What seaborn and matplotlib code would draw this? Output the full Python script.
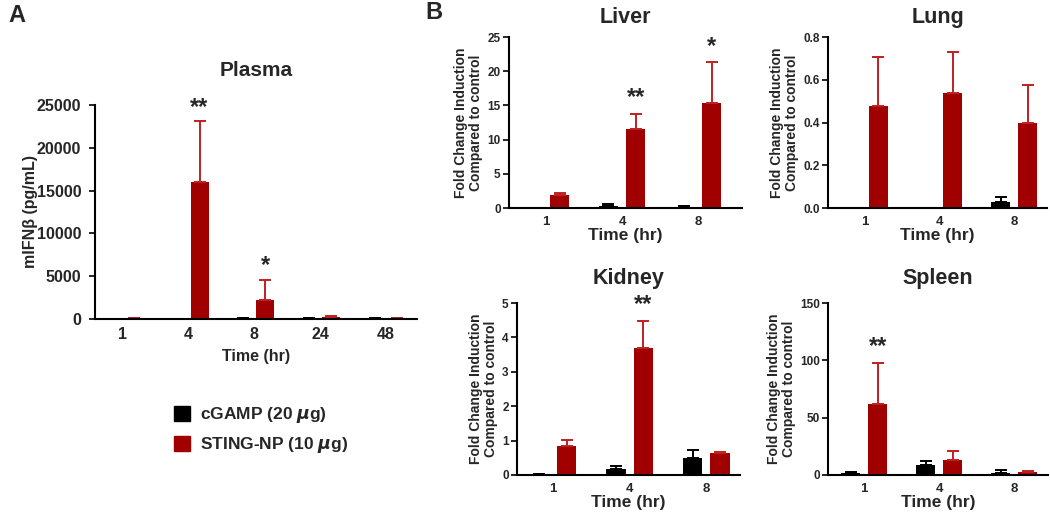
import numpy as np
import pandas as pd
import matplotlib
matplotlib.use('Agg')
import matplotlib.pyplot as plt
import matplotlib.patches as mpatches
import seaborn as sns

# Group labels / colours
groups = ['cGAMP (20 $\\mu$g)', 'STING-NP (10 $\\mu$g)']
bar_colors = ['#000000', '#a00000']
err_colors = ['#000000', '#c02020']

# Panel A - plasma mIFNb (pg/mL)
plasma_times = ['1', '4', '8', '24', '48']
plasma_cgamp = [20, 20, 80, 80, 80]
plasma_cgamp_err = [0, 0, 20, 20, 20]
plasma_sting = [120, 16000, 2250, 270, 100]
plasma_sting_err = [30, 7100, 2350, 130, 30]
plasma_stars = ['', '**', '*', '', '']
plasma_star_y = [0, 24700, 6200, 0, 0]

# Panel B - fold change induction vs control
organ_times = ['1', '4', '8']
liver_cgamp = [0.0, 0.3, 0.15]
liver_cgamp_err = [0, 0.3, 0.1]
liver_sting = [1.9, 11.6, 15.3]
liver_sting_err = [0.3, 2.2, 6.0]
liver_stars = ['', '**', '*']
liver_star_y = [0, 16.2, 23.6]

lung_cgamp = [0.0, 0.0, 0.03]
lung_cgamp_err = [0, 0, 0.02]
lung_sting = [0.475, 0.54, 0.40]
lung_sting_err = [0.23, 0.19, 0.175]
lung_stars = ['', '', '']
lung_star_y = [0, 0, 0]

kidney_cgamp = [0.03, 0.17, 0.5]
kidney_cgamp_err = [0.01, 0.1, 0.23]
kidney_sting = [0.84, 3.68, 0.64]
kidney_sting_err = [0.18, 0.81, 0.04]
kidney_stars = ['', '**', '']
kidney_star_y = [0, 4.95, 0]

spleen_cgamp = [1.5, 9, 2]
spleen_cgamp_err = [1.1, 3.5, 2.4]
spleen_sting = [62, 13.5, 2.6]
spleen_sting_err = [35.6, 7.2, 1.2]
spleen_stars = ['**', '', '']
spleen_star_y = [112, 0, 0]

sns.set_style('ticks')
plt.rcParams['font.family'] = ['Liberation Sans', 'DejaVu Sans']
plt.rcParams['font.weight'] = 'bold'
plt.rcParams['axes.labelweight'] = 'bold'
plt.rcParams['axes.titleweight'] = 'bold'


def draw_panel(ax, times, cgamp, cgamp_err, sting, sting_err, stars, star_y,
               width, gap, star_size):
    n = len(times)
    df = pd.DataFrame({
        'time': times * 2,
        'value': cgamp + sting,
        'group': [groups[0]] * n + [groups[1]] * n,
    })
    sns.barplot(data=df, x='time', y='value', hue='group', order=times,
                hue_order=groups, palette=dict(zip(groups, bar_colors)),
                width=width, gap=gap, errorbar=None, legend=False,
                saturation=1, linewidth=0, ax=ax)

    # upper-only error bars, placed on seaborn's own bars
    for cont, errs, ec in zip(ax.containers, [cgamp_err, sting_err], err_colors):
        for bar, e in zip(cont, errs):
            if e <= 0:
                continue
            x = bar.get_x() + bar.get_width() / 2
            ax.errorbar(x, bar.get_height(), yerr=[[0], [e]], fmt='none',
                        ecolor=ec, elinewidth=1.4, capsize=4, capthick=1.4,
                        zorder=1)

    # significance stars over the STING-NP bars
    for bar, s, y in zip(ax.containers[1], stars, star_y):
        if s:
            ax.text(bar.get_x() + bar.get_width() / 2, y, s, ha='center',
                    va='center', fontsize=star_size, fontweight='bold')

    sns.despine(ax=ax)
    for sp in ['left', 'bottom']:
        ax.spines[sp].set_linewidth(1.5)
        ax.spines[sp].set_color('black')
    ax.tick_params(axis='x', length=0)
    ax.tick_params(axis='y', length=4, width=1.4, direction='out')


fig = plt.figure(figsize=(10.5, 5.14), dpi=100)

# ---- Panel A ----
ax_p = fig.add_axes([0.0905, 0.3794, 0.3067, 0.4163])
draw_panel(ax_p, plasma_times, plasma_cgamp, plasma_cgamp_err, plasma_sting,
           plasma_sting_err, plasma_stars, plasma_star_y, 0.667, 0.18, 17)
ax_p.set_xlim(-0.42, 4.47)
ax_p.set_ylim(0, 25000)
ax_p.set_yticks(np.arange(0, 25001, 5000))
ax_p.tick_params(axis='both', labelsize=11.5, pad=6)
ax_p.set_title('Plasma', fontsize=15, pad=21)
ax_p.set_xlabel('Time (hr)', fontsize=11.5, labelpad=5)
ax_p.set_ylabel('mIFN\u03b2 (pg/mL)', fontsize=11.5)
ax_p.yaxis.set_label_coords(-0.178, 0.5)
for lab in ax_p.get_xticklabels() + ax_p.get_yticklabels():
    lab.set_fontweight('bold')

handles = [mpatches.Patch(facecolor=c, edgecolor=c, label=g)
           for c, g in zip(bar_colors, groups)]
fig.legend(handles=handles, loc='upper left', bbox_to_anchor=(0.157, 0.228),
           frameon=False, handlelength=0.95, handleheight=0.95,
           handletextpad=0.6, labelspacing=0.55, borderpad=0,
           prop={'weight': 'bold', 'size': 12.5})

# ---- Panel B ----
organ_specs = [
    ('Liver', [0.4848, 0.5953, 0.2219, 0.3327], liver_cgamp, liver_cgamp_err,
     liver_sting, liver_sting_err, liver_stars, liver_star_y,
     (-0.49, 2.58), (0, 25), np.arange(0, 26, 5), '{:.0f}', 10),
    ('Lung', [0.7886, 0.5953, 0.2086, 0.3327], lung_cgamp, lung_cgamp_err,
     lung_sting, lung_sting_err, lung_stars, lung_star_y,
     (-0.49, 2.44), (0, 0.8), np.arange(0, 0.81, 0.2), '{:.1f}', 10),
    ('Kidney', [0.4924, 0.0759, 0.2124, 0.3346], kidney_cgamp, kidney_cgamp_err,
     kidney_sting, kidney_sting_err, kidney_stars, kidney_star_y,
     (-0.47, 2.44), (0, 5), np.arange(0, 6, 1), '{:.0f}', 14),
    ('Spleen', [0.7886, 0.0759, 0.2095, 0.3346], spleen_cgamp, spleen_cgamp_err,
     spleen_sting, spleen_sting_err, spleen_stars, spleen_star_y,
     (-0.48, 2.45), (0, 150), np.arange(0, 151, 50), '{:.0f}', 14),
]

for (name, rect, cg, cge, st, ste, stars, sy, xlim, ylim, yt, fmt,
     tpad) in organ_specs:
    ax = fig.add_axes(rect)
    draw_panel(ax, organ_times, cg, cge, st, ste, stars, sy, 0.72, 0.3, 17)
    ax.set_xlim(*xlim)
    ax.set_ylim(*ylim)
    ax.set_yticks(yt)
    ax.set_yticklabels([fmt.format(v) for v in yt])
    ax.tick_params(axis='y', labelsize=8.5, pad=2)
    ax.tick_params(axis='x', labelsize=9.5, pad=6)
    for lab in ax.get_xticklabels() + ax.get_yticklabels():
        lab.set_fontweight('bold')
    ax.set_title(name, fontsize=15.5, pad=tpad)
    ax.set_xlabel('Time (hr)', fontsize=12.5, labelpad=0)
    ax.set_ylabel('Fold Change Induction\nCompared to control', fontsize=10,
                  linespacing=1.1, labelpad=3)

fig.text(0.008, 0.97, 'A', fontsize=17, fontweight='bold', va='center')
fig.text(0.405, 0.975, 'B', fontsize=17, fontweight='bold', va='center')

fig.savefig('out.png', dpi=100, facecolor='white')
